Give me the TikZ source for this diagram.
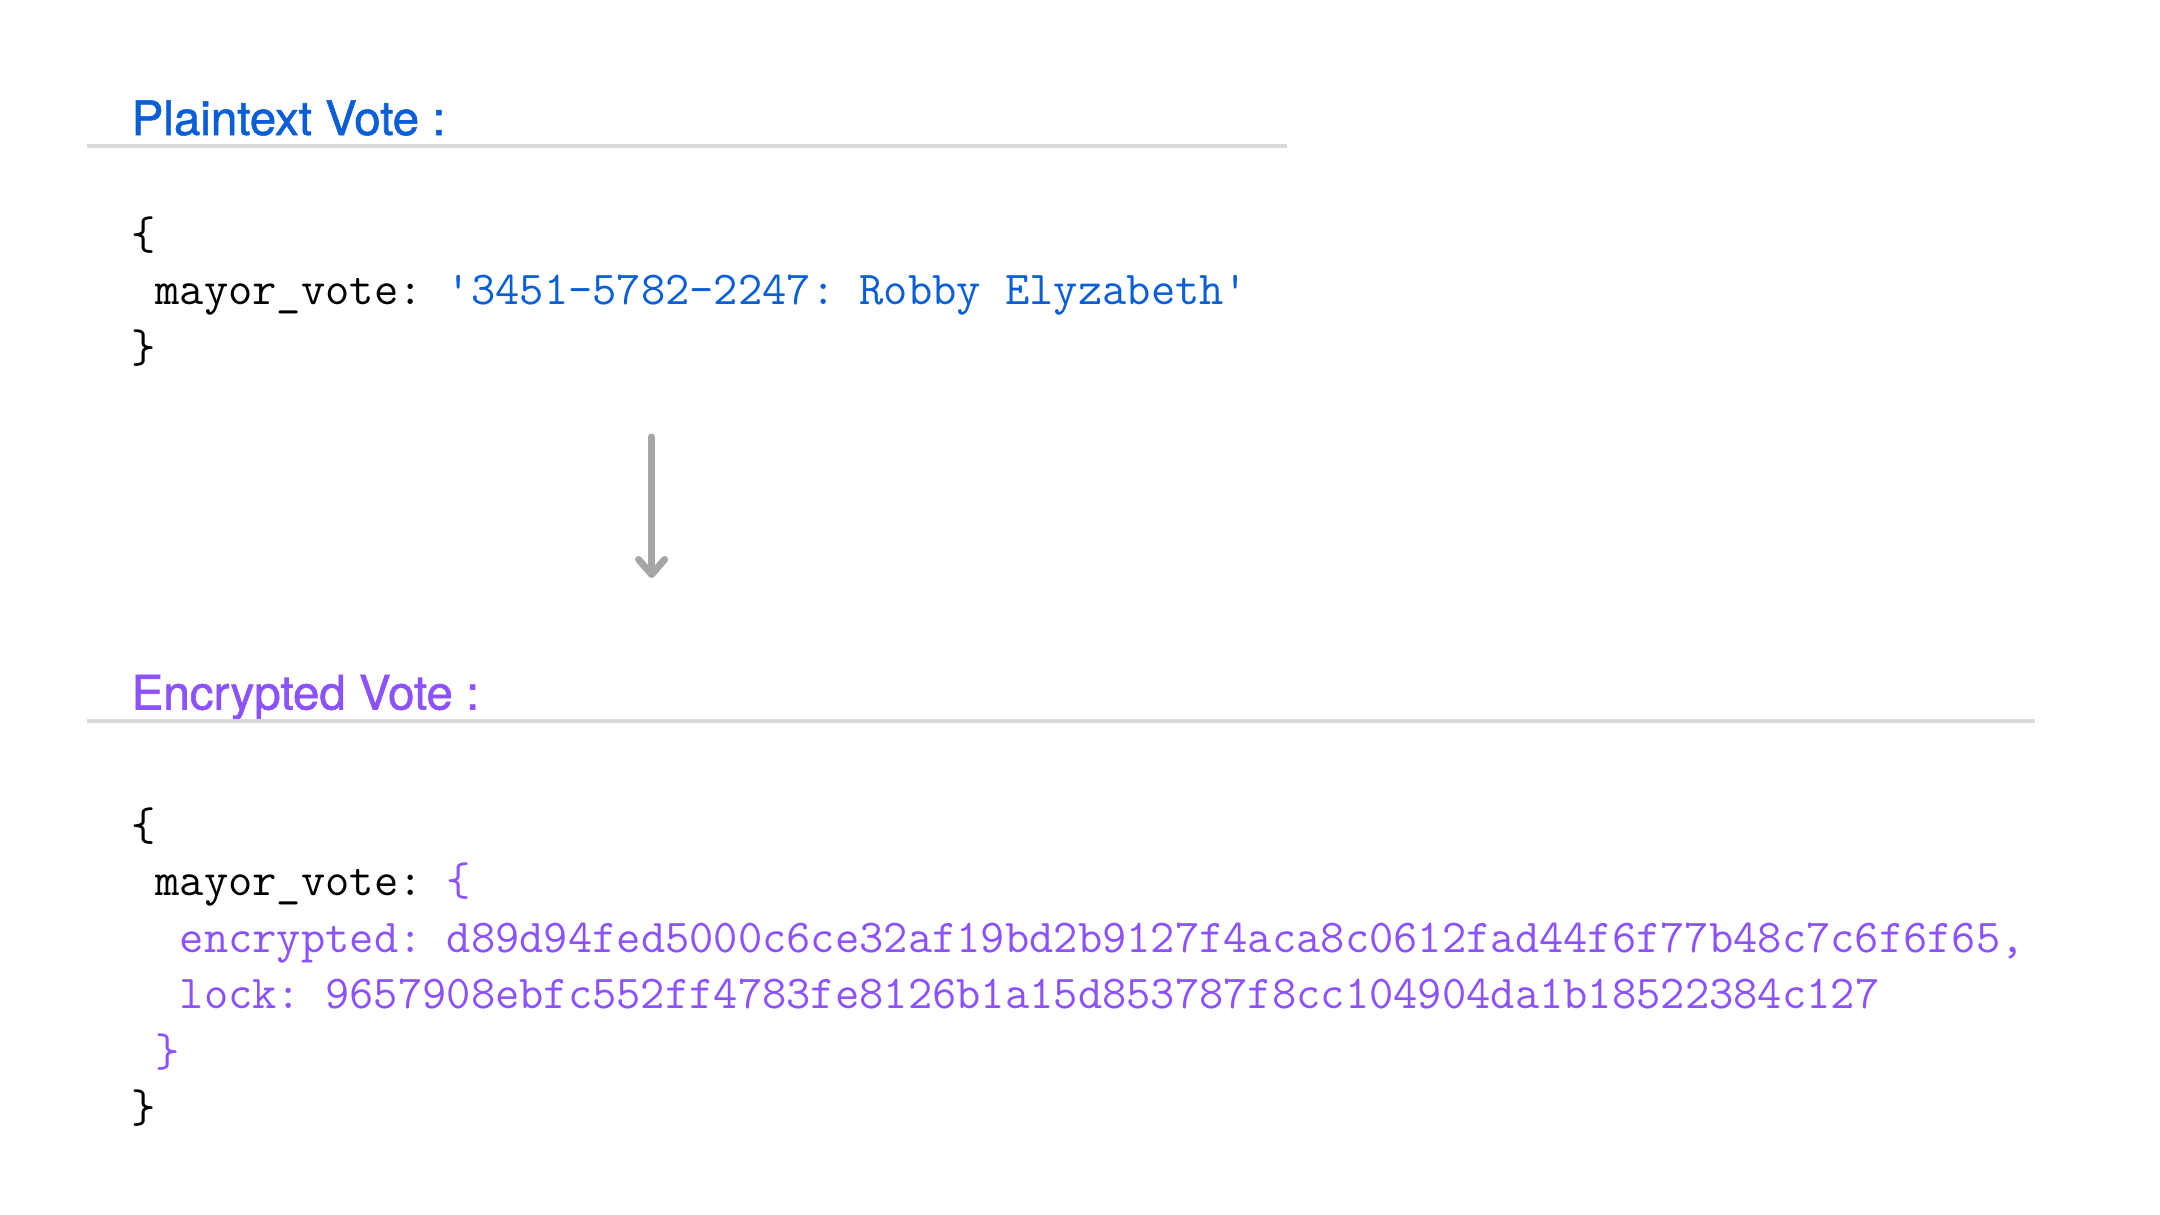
\documentclass[tikz,border=0pt]{standalone}
\usepackage{fontspec}
\newfontfamily\headfont{TeX Gyre Heros}[FakeBold=1.2]
\usetikzlibrary{arrows.meta}
\definecolor{vblue}{RGB}{10,95,217}
\definecolor{vpurple}{RGB}{140,82,255}
\definecolor{rulegrey}{RGB}{217,217,217}
\definecolor{arrowgrey}{RGB}{166,166,166}
\newcommand{\codesp}{\hphantom{0}}
\begin{document}
\frenchspacing
\begin{tikzpicture}[x=1pt,y=-1pt,
  heading/.style={anchor=base west, inner sep=0pt, font=\headfont\fontsize{47.5}{57}\selectfont},
  code/.style={anchor=base west, inner sep=0pt, font=\ttfamily\frenchspacing\fontsize{47.15}{56.5}\selectfont},
  rulebar/.style={draw=rulegrey, line width=4pt},
  flow/.style={draw=arrowgrey, line width=7pt, line cap=round, -{Straight Barb[length=15pt,width=26pt,round]}}]
\useasboundingbox (0,0) rectangle (2160,1215);
% Plaintext section
\node[heading, text=vblue] (h1) at (131.5,135) {Plaintext Vote :};
\coordinate (r1a) at (87,146);
\coordinate (r1b) at (1287,146);
\draw[rulebar] (r1a) -- (r1b);
\node[code] (p1) at (131,249) {\{};
\node[code] (p2) at (131,304) {\codesp mayor\_vote: \textcolor{vblue}{'3451-5782-2247: Robby Elyzabeth'}};
\node[code] (p3) at (131,362) {\}};
% Arrow
\coordinate (atop) at (651.6,437);
\coordinate (atip) at (651.6,578);
\draw[flow] (atop) -- (atip);
% Encrypted section
\node[heading, text=vpurple] (h2) at (131.5,709.5) {Encrypted Vote :};
\coordinate (r2a) at (87,720.5);
\coordinate (r2b) at (2035,720.5);
\draw[rulebar] (r2a) -- (r2b);
\node[code] (e1) at (131,840) {\{};
\node[code] (e2) at (131,895.5) {\codesp mayor\_vote: \textcolor{vpurple}{\{}};
\node[code, text=vpurple] (e3) at (131,952) {\codesp\codesp encrypted: d89d94fed5000c6ce32af19bd2b9127f4aca8c0612fad44f6f77b48c7c6f6f65,};
\node[code, text=vpurple] (e4) at (131,1008.5) {\codesp\codesp lock: 9657908ebfc552ff4783fe8126b1a15d853787f8cc104904da1b18522384c127};
\node[code, text=vpurple] (e5) at (131,1066) {\codesp\}};
\node[code] (e6) at (131,1122.5) {\}};
\end{tikzpicture}
\end{document}
